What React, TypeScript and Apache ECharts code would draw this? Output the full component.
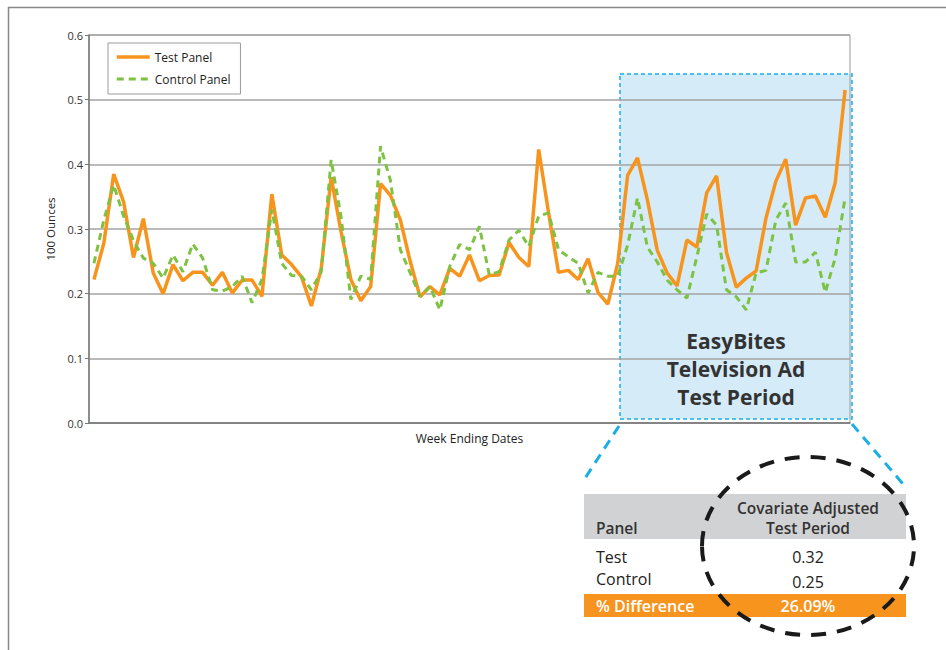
import React, { useEffect, useRef } from "react";
import * as echarts from "echarts";

const weeks: string[] = Array.from({ length: 77 }, (_, i) => `W${i + 1}`);

const testPanel: number[] = [
  0.222, 0.278, 0.385, 0.342, 0.256, 0.316, 0.232, 0.200, 0.245, 0.220,
  0.233, 0.233, 0.213, 0.233, 0.201, 0.221, 0.221, 0.196, 0.354, 0.260,
  0.245, 0.226, 0.181, 0.239, 0.380, 0.296, 0.222, 0.189, 0.211, 0.370,
  0.352, 0.314, 0.250, 0.195, 0.211, 0.198, 0.239, 0.227, 0.260, 0.220,
  0.228, 0.229, 0.279, 0.256, 0.242, 0.423, 0.325, 0.233, 0.236, 0.222,
  0.254, 0.202, 0.184, 0.247, 0.383, 0.410, 0.345, 0.267, 0.232, 0.212,
  0.283, 0.272, 0.356, 0.382, 0.264, 0.210, 0.224, 0.235, 0.317, 0.374,
  0.408, 0.306, 0.348, 0.351, 0.318, 0.371, 0.515,
];

const controlPanel: number[] = [
  0.247, 0.314, 0.368, 0.320, 0.282, 0.255, 0.247, 0.224, 0.260, 0.234,
  0.277, 0.255, 0.206, 0.204, 0.211, 0.227, 0.186, 0.222, 0.330, 0.247,
  0.228, 0.227, 0.206, 0.234, 0.407, 0.319, 0.191, 0.227, 0.222, 0.428,
  0.375, 0.268, 0.232, 0.196, 0.211, 0.175, 0.242, 0.276, 0.268, 0.304,
  0.229, 0.234, 0.283, 0.298, 0.273, 0.320, 0.325, 0.268, 0.257, 0.247,
  0.201, 0.233, 0.227, 0.227, 0.275, 0.348, 0.272, 0.249, 0.221, 0.206,
  0.193, 0.257, 0.323, 0.306, 0.206, 0.195, 0.175, 0.232, 0.236, 0.314,
  0.340, 0.249, 0.249, 0.264, 0.202, 0.255, 0.348,
];

const tableHeader: string[] = ["Panel", "Covariate Adjusted", "Test Period"];
const tableRows: string[] = ["Test", "Control"];
const tableValues: string[] = ["0.32", "0.25"];
const diffLabel = "% Difference";
const diffValue = "26.09%";
const periodLabel = "EasyBites\nTelevision Ad\nTest Period";

const FONT = "'Open Sans', 'Noto Sans', sans-serif";
const ORANGE = "#f7941d";
const GREEN = "#7dc242";
const CYAN = "#1aaee5";

export default function App() {
  const ref = useRef<HTMLDivElement>(null);
  useEffect(() => {
    if (!ref.current) return;
    const chart = echarts.init(ref.current, undefined, { renderer: "svg" });
    chart.setOption({
      animation: false,
      textStyle: { fontFamily: FONT },
      grid: {
        left: 89,
        top: 35,
        width: 761,
        height: 388,
        show: true,
        borderColor: "#9a9a9a",
        borderWidth: 1,
        backgroundColor: "transparent",
      },
      legend: {
        left: 108,
        top: 43,
        orient: "vertical",
        padding: [8, 10, 9, 7],
        itemWidth: 33,
        itemHeight: 12,
        itemGap: 10,
        borderColor: "#9a9a9a",
        borderWidth: 1,
        backgroundColor: "#fff",
        itemStyle: { opacity: 0 },
        textStyle: { fontSize: 12, color: "#222", fontFamily: FONT },
        data: [
          { name: "Test Panel", lineStyle: { width: 3.5 } },
          { name: "Control Panel", lineStyle: { width: 3, type: [7, 5] } },
        ],
      },
      xAxis: {
        type: "category",
        data: weeks,
        boundaryGap: true,
        name: "Week Ending Dates",
        nameLocation: "middle",
        nameGap: 9,
        nameTextStyle: { fontSize: 12, color: "#222" },
        axisLabel: { show: false },
        axisTick: { show: false },
        axisLine: { lineStyle: { color: "#777", width: 1.5 } },
        splitLine: { show: false },
      },
      yAxis: {
        type: "value",
        min: 0,
        max: 0.6,
        interval: 0.1,
        name: "100 Ounces",
        nameLocation: "middle",
        nameGap: 30,
        nameRotate: 90,
        nameTextStyle: { fontSize: 11.5, color: "#222" },
        axisLabel: {
          fontSize: 11,
          color: "#333",
          margin: 6,
          formatter: (v: number) => v.toFixed(1),
        },
        axisTick: { show: true, length: 4, lineStyle: { color: "#777" } },
        axisLine: { show: true, lineStyle: { color: "#777", width: 1.5 } },
        splitLine: { lineStyle: { color: "#a3a3a3", width: 1.5 } },
      },
      series: [
        {
          name: "Test Panel",
          type: "line",
          data: testPanel,
          symbol: "none",
          color: ORANGE,
          lineStyle: { color: ORANGE, width: 3.5 },
          z: 3,
        },
        {
          name: "Control Panel",
          type: "line",
          data: controlPanel,
          symbol: "none",
          color: GREEN,
          lineStyle: { color: GREEN, width: 3, type: [7, 5] },
          z: 4,
        },
      ],
      graphic: [
        // outer frame
        { type: "line", z: 1, shape: { x1: 8, y1: 7.5, x2: 946, y2: 7.5 }, style: { stroke: "#888", lineWidth: 1.5 } },
        { type: "line", z: 1, shape: { x1: 8.5, y1: 7, x2: 8.5, y2: 650 }, style: { stroke: "#888", lineWidth: 1.5 } },
        // highlight box
        {
          type: "rect",
          z: -10,
          shape: { x: 620, y: 74, width: 232, height: 345 },
          style: { fill: "#d5ebf8", stroke: CYAN, lineWidth: 1.5, lineDash: [4, 3] },
        },
        {
          type: "text",
          z: 5,
          x: 736,
          y: 369,
          style: {
            text: periodLabel,
            font: `bold 21px ${FONT}`,
            fill: "#333",
            align: "center",
            verticalAlign: "middle",
            lineHeight: 28,
          },
        },
        // connectors
        { type: "line", z: 5, shape: { x1: 619, y1: 426, x2: 582, y2: 483 }, style: { stroke: CYAN, lineWidth: 3, lineDash: [10, 7] } },
        { type: "line", z: 5, shape: { x1: 852, y1: 424, x2: 903, y2: 484 }, style: { stroke: CYAN, lineWidth: 3, lineDash: [10, 7] } },
        // table
        { type: "rect", z: 5, shape: { x: 584, y: 494, width: 322, height: 45 }, style: { fill: "#d1d2d4" } },
        { type: "rect", z: 5, shape: { x: 584, y: 594, width: 322, height: 23 }, style: { fill: ORANGE } },
        {
          type: "text", z: 6, x: 596, y: 528,
          style: { text: tableHeader[0], font: `600 15.5px ${FONT}`, fill: "#333", verticalAlign: "middle" },
        },
        {
          type: "text", z: 6, x: 808, y: 508,
          style: { text: tableHeader[1], font: `600 15.5px ${FONT}`, fill: "#333", align: "center", verticalAlign: "middle" },
        },
        {
          type: "text", z: 6, x: 808, y: 528,
          style: { text: tableHeader[2], font: `600 15.5px ${FONT}`, fill: "#333", align: "center", verticalAlign: "middle" },
        },
        {
          type: "text", z: 6, x: 596, y: 557,
          style: { text: tableRows[0], font: `16px ${FONT}`, fill: "#222", verticalAlign: "middle" },
        },
        {
          type: "text", z: 6, x: 596, y: 579,
          style: { text: tableRows[1], font: `16px ${FONT}`, fill: "#222", verticalAlign: "middle" },
        },
        {
          type: "text", z: 6, x: 808, y: 557,
          style: { text: tableValues[0], font: `16px ${FONT}`, fill: "#222", align: "center", verticalAlign: "middle" },
        },
        {
          type: "text", z: 6, x: 808, y: 582,
          style: { text: tableValues[1], font: `16px ${FONT}`, fill: "#222", align: "center", verticalAlign: "middle" },
        },
        {
          type: "text", z: 6, x: 596, y: 606,
          style: { text: diffLabel, font: `600 16px ${FONT}`, fill: "#fff", verticalAlign: "middle" },
        },
        {
          type: "text", z: 6, x: 808, y: 606,
          style: { text: diffValue, font: `600 16px ${FONT}`, fill: "#fff", align: "center", verticalAlign: "middle" },
        },
        // ellipse
        {
          type: "ellipse", z: 7,
          shape: { cx: 808, cy: 546, rx: 106, ry: 89 },
          style: { fill: "none", stroke: "#1a1a1a", lineWidth: 4, lineDash: [15, 11] },
        },
      ],
    });
    return () => chart.dispose();
  }, []);
  return <div ref={ref} style={{ width: 946, height: 650, position: "absolute", left: 0, top: 0 }} />;
}
